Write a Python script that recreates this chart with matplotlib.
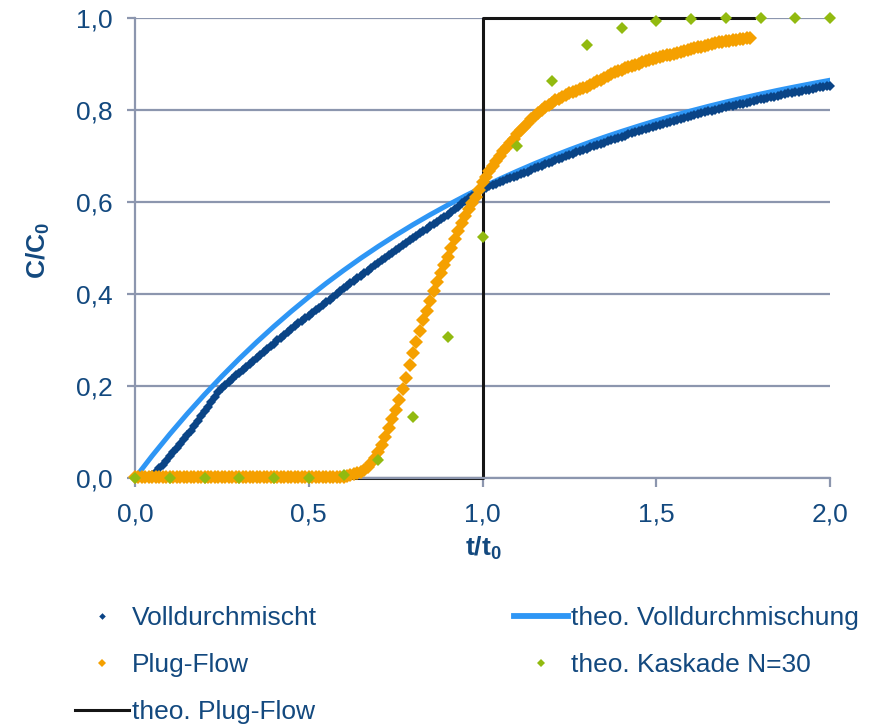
import numpy as np
import matplotlib
matplotlib.use("Agg")
import matplotlib.pyplot as plt

plt.rcParams['font.family'] = ['Liberation Sans', 'DejaVu Sans']
plt.rcParams['mathtext.fontset'] = 'custom'
plt.rcParams['mathtext.rm'] = 'Liberation Sans'
plt.rcParams['mathtext.bf'] = 'Liberation Sans:bold'

# measured: fully mixed reactor, sampled every 0.01 t/t0 starting at 0.04
c_mix = [
    0.000, 0.006, 0.013, 0.021, 0.029, 0.038, 0.047, 0.056, 0.065, 0.074,
    0.084, 0.093, 0.103, 0.112, 0.124, 0.135, 0.145, 0.155, 0.165, 0.176,
    0.186, 0.196, 0.203, 0.209, 0.216, 0.223, 0.229, 0.235, 0.241, 0.248,
    0.254, 0.260, 0.267, 0.273, 0.280, 0.286, 0.292, 0.299, 0.305, 0.311,
    0.318, 0.324, 0.330, 0.336, 0.341, 0.347, 0.353, 0.359, 0.365, 0.370,
    0.376, 0.382, 0.388, 0.394, 0.400, 0.406, 0.412, 0.418, 0.423, 0.429,
    0.435, 0.440, 0.446, 0.451, 0.457, 0.462, 0.468, 0.473, 0.479, 0.484,
    0.490, 0.495, 0.500, 0.506, 0.511, 0.517, 0.522, 0.527, 0.532, 0.537,
    0.542, 0.547, 0.552, 0.557, 0.562, 0.567, 0.572, 0.578, 0.584, 0.590,
    0.597, 0.603, 0.608, 0.613, 0.618, 0.623, 0.628, 0.631, 0.634, 0.637,
    0.640, 0.643, 0.646, 0.649, 0.652, 0.654, 0.657, 0.660, 0.663, 0.666,
    0.670, 0.673, 0.676, 0.679, 0.682, 0.685, 0.688, 0.691, 0.694, 0.696,
    0.699, 0.702, 0.705, 0.708, 0.710, 0.713, 0.716, 0.719, 0.721, 0.724,
    0.726, 0.729, 0.732, 0.734, 0.737, 0.739, 0.742, 0.744, 0.747, 0.749,
    0.752, 0.754, 0.756, 0.759, 0.761, 0.764, 0.766, 0.768, 0.770, 0.772,
    0.774, 0.777, 0.779, 0.781, 0.783, 0.785, 0.787, 0.789, 0.791, 0.793,
    0.795, 0.797, 0.798, 0.800, 0.802, 0.804, 0.806, 0.808, 0.809, 0.811,
    0.813, 0.814, 0.816, 0.818, 0.820, 0.821, 0.823, 0.825, 0.826, 0.828,
    0.829, 0.831, 0.833, 0.834, 0.836, 0.837, 0.839, 0.840, 0.842, 0.843,
    0.844, 0.846, 0.847, 0.849, 0.850, 0.852, 0.853,
]
t_mix = 0.04 + 0.01 * np.arange(len(c_mix))

# measured: plug flow reactor, sampled every 0.01 t/t0 starting at 0
c_plug = [
    0.003, 0.003, 0.003, 0.003, 0.003, 0.003, 0.003, 0.003, 0.003, 0.003,
    0.003, 0.003, 0.003, 0.003, 0.003, 0.003, 0.003, 0.003, 0.003, 0.003,
    0.003, 0.003, 0.003, 0.003, 0.003, 0.003, 0.003, 0.003, 0.003, 0.003,
    0.003, 0.003, 0.003, 0.003, 0.003, 0.003, 0.003, 0.003, 0.003, 0.003,
    0.003, 0.003, 0.003, 0.003, 0.003, 0.003, 0.003, 0.003, 0.003, 0.003,
    0.003, 0.003, 0.003, 0.003, 0.003, 0.003, 0.003, 0.003, 0.003, 0.003,
    0.003, 0.004, 0.006, 0.008, 0.010, 0.013, 0.018, 0.024, 0.032, 0.043,
    0.057, 0.072, 0.090, 0.108, 0.128, 0.148, 0.170, 0.193, 0.217, 0.245,
    0.272, 0.296, 0.320, 0.343, 0.364, 0.385, 0.406, 0.426, 0.445, 0.463,
    0.481, 0.500, 0.519, 0.537, 0.554, 0.569, 0.584, 0.597, 0.611, 0.626,
    0.643, 0.655, 0.667, 0.679, 0.690, 0.700, 0.710, 0.720, 0.729, 0.738,
    0.747, 0.756, 0.764, 0.772, 0.780, 0.787, 0.794, 0.800, 0.806, 0.811,
    0.816, 0.821, 0.825, 0.829, 0.833, 0.836, 0.839, 0.842, 0.845, 0.848,
    0.851, 0.855, 0.858, 0.862, 0.866, 0.870, 0.874, 0.878, 0.882, 0.885,
    0.888, 0.891, 0.893, 0.896, 0.898, 0.901, 0.904, 0.906, 0.909, 0.911,
    0.913, 0.915, 0.917, 0.919, 0.920, 0.922, 0.924, 0.926, 0.928, 0.930,
    0.932, 0.934, 0.936, 0.938, 0.940, 0.942, 0.944, 0.946, 0.947, 0.948,
    0.950, 0.951, 0.952, 0.953, 0.954, 0.955, 0.956, 0.957,
]
t_plug = 0.01 * np.arange(len(c_plug))

# theoretical ideal mixing curve
t_theo_mix = [0.00, 0.05, 0.10, 0.15, 0.20, 0.25, 0.30, 0.35, 0.40, 0.45,
              0.50, 0.55, 0.60, 0.65, 0.70, 0.75, 0.80, 0.85, 0.90, 0.95,
              1.00, 1.05, 1.10, 1.15, 1.20, 1.25, 1.30, 1.35, 1.40, 1.45,
              1.50, 1.55, 1.60, 1.65, 1.70, 1.75, 1.80, 1.85, 1.90, 1.95, 2.00]
c_theo_mix = [0.0000, 0.0488, 0.0952, 0.1393, 0.1813, 0.2212, 0.2592, 0.2953,
              0.3297, 0.3624, 0.3935, 0.4231, 0.4512, 0.4780, 0.5034, 0.5276,
              0.5507, 0.5726, 0.5934, 0.6133, 0.6321, 0.6501, 0.6671, 0.6834,
              0.6988, 0.7135, 0.7275, 0.7408, 0.7534, 0.7654, 0.7769, 0.7878,
              0.7981, 0.8080, 0.8173, 0.8262, 0.8347, 0.8428, 0.8504, 0.8577,
              0.8647]

# theoretical cascade of 30 tanks
t_kaskade = [0.0, 0.1, 0.2, 0.3, 0.4, 0.5, 0.6, 0.7, 0.8, 0.9, 1.0,
             1.1, 1.2, 1.3, 1.4, 1.5, 1.6, 1.7, 1.8, 1.9, 2.0]
c_kaskade = [0.0, 0.0, 0.0, 0.0, 0.0, 0.0, 0.006, 0.039, 0.133, 0.307, 0.524,
             0.722, 0.863, 0.941, 0.978, 0.994, 0.998, 0.999, 1.0, 1.0, 1.0]

# theoretical plug flow step
t_theo_plug = [0.0, 1.0, 1.0, 1.78]
c_theo_plug = [0.0, 0.0, 1.0, 1.0]

x_ticks = [0.0, 0.5, 1.0, 1.5, 2.0]
x_labels = ['0,0', '0,5', '1,0', '1,5', '2,0']
y_ticks = [0.0, 0.2, 0.4, 0.6, 0.8, 1.0]
y_labels = ['0,0', '0,2', '0,4', '0,6', '0,8', '1,0']

txt_color = '#13497F'
grid_color = '#8C96AE'
fs = 19

fig = plt.figure(figsize=(8.74, 7.24), dpi=100)
ax = fig.add_axes([135 / 874, 1 - 478 / 724, 695 / 874, 460 / 724])

h_mix, = ax.plot(t_mix, c_mix, linestyle='none', marker='D', ms=5.6,
                 color='#0A4486', mew=0, zorder=3, clip_on=False,
                 label='Volldurchmischt')
h_theo_mix, = ax.plot(t_theo_mix, c_theo_mix, color='#2E96F5', lw=3.6,
                      zorder=2, label='theo. Volldurchmischung')
h_plug, = ax.plot(t_plug, c_plug, linestyle='none', marker='D', ms=6.8,
                  color='#F5A000', mew=0, zorder=4, clip_on=False,
                  label='Plug-Flow')
h_kaskade, = ax.plot(t_kaskade, c_kaskade, linestyle='none', marker='D',
                     ms=6.6, color='#92BA10', mew=0, zorder=5, clip_on=False,
                     label='theo. Kaskade N=30')
h_theo_plug, = ax.plot(t_theo_plug, c_theo_plug, color='#151515', lw=2.2,
                       zorder=2.5, clip_on=False, label='theo. Plug-Flow')

ax.set_xlim(0, 2)
ax.set_ylim(0, 1)
ax.set_xticks(x_ticks)
ax.set_xticklabels(x_labels)
ax.set_yticks(y_ticks)
ax.set_yticklabels(y_labels)

for side in ['top', 'right']:
    ax.spines[side].set_visible(False)
for side in ['left', 'bottom']:
    ax.spines[side].set_color(grid_color)
    ax.spines[side].set_linewidth(1.6)

ax.grid(axis='y', color=grid_color, lw=1.6)
ax.set_axisbelow(True)
ax.tick_params(axis='both', colors=grid_color, labelcolor=txt_color,
               labelsize=fs, width=1.6)
ax.tick_params(axis='y', length=6, pad=10)
ax.tick_params(axis='x', length=6.5, pad=11)

fig.text(483 / 874, 1 - 556 / 724, r'$\mathbf{t/t_0}$', color=txt_color,
         fontsize=19, ha='center', va='baseline')
fig.text(38 / 874, 1 - 250 / 724, r'$\mathbf{C/C_0}$', color=txt_color,
         fontsize=19, ha='center', va='center', rotation=90)

handles = [h_mix, h_plug, h_theo_plug, h_theo_mix, h_kaskade]
leg = fig.legend(handles=handles, labels=[h.get_label() for h in handles],
                 ncol=2, loc='upper left', bbox_to_anchor=(75 / 874, 0.163),
                 frameon=False, fontsize=fs, borderpad=0, numpoints=1,
                 handlelength=2.05, handletextpad=0.12, columnspacing=7.45,
                 labelspacing=0.88, markerscale=0.6, borderaxespad=0)
for text in leg.get_texts():
    text.set_color(txt_color)
leg.get_lines()[3].set_linewidth(4.2)

fig.savefig('out.png', dpi=100)
